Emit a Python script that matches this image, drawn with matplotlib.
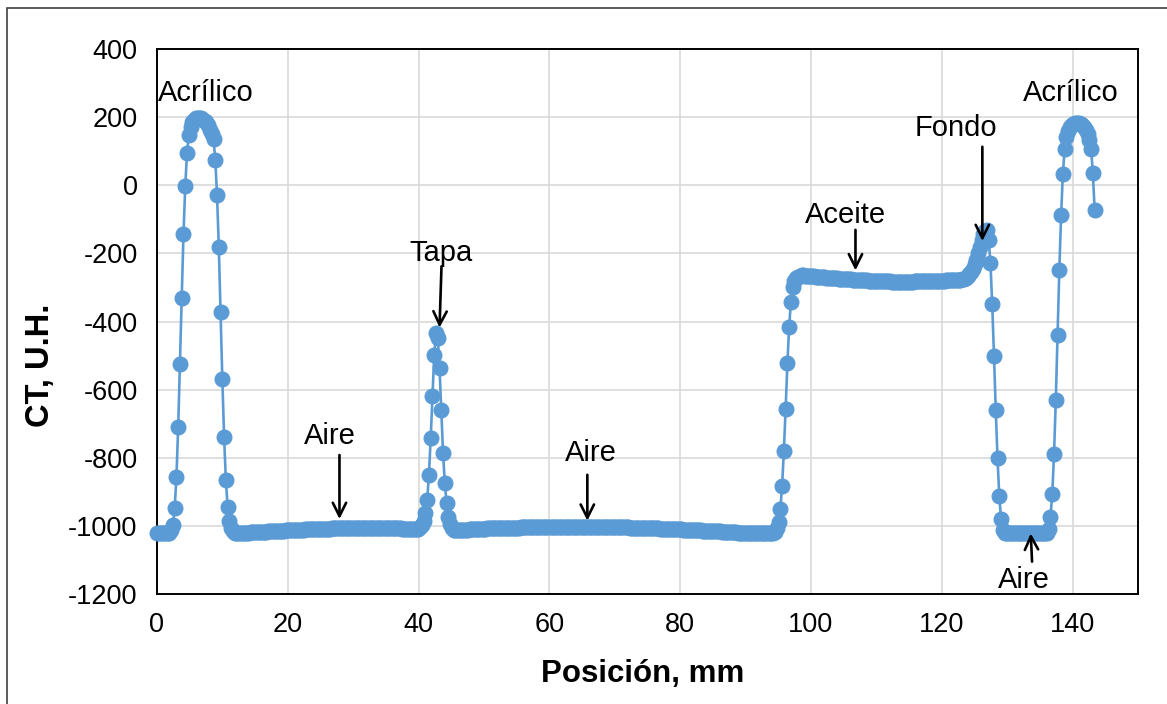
import matplotlib.pyplot as plt
import matplotlib.patches as mpatches
import numpy as np

plt.rcParams['font.family'] = ['Liberation Sans', 'DejaVu Sans']
plt.rcParams['axes.unicode_minus'] = False

# Perfil de CT a lo largo del fantoma (U.H.), un valor por pixel
PASO_MM = 0.27

acrilico_1 = [
    -1022, -1022, -1022, -1022, -1022, -1022, -1022, -1022,
    -1012, -997, -948, -857, -710, -525, -330, -143, -2, 95, 147, 172, 185, 192,
    197, 198, 198, 197, 193, 190, 185, 176, 163, 150, 136,
    74, -29, -181, -372, -569, -739, -866, -945, -986, -1006, -1016, -1021,
]

aire_1 = [
    -1022, -1022, -1021, -1021, -1021, -1020, -1020, -1020, -1019, -1019, -1019,
    -1019, -1018, -1018, -1018, -1017, -1017, -1017, -1016, -1016, -1016,
    -1015, -1015, -1015, -1015, -1014, -1014, -1014, -1013, -1013,
    -1013, -1013, -1012, -1012, -1012, -1011, -1011, -1011, -1011, -1010,
    -1010, -1010, -1010, -1009, -1009, -1009, -1009, -1009, -1008, -1008,
    -1008, -1008, -1008, -1008, -1007, -1007,
    -1007, -1007, -1007, -1007, -1007,
    -1006, -1006, -1006, -1006, -1006, -1006, -1006, -1006, -1006, -1006,
    -1006, -1006, -1006, -1006, -1006, -1006, -1006, -1006, -1006, -1006,
    -1006, -1006, -1006,
    -1007, -1007, -1007, -1007, -1007, -1007, -1007, -1007, -1007,
    -1007, -1008, -1008, -1008, -1008, -1009, -1009, -1009, -1010, -1010,
]

tapa = [
    -1008, -1003, -996, -985, -963, -924, -851, -743, -619, -498, -435,
    -449, -537, -660, -787, -875, -934, -973, -995, -1006, -1011, -1013,
]

aire_2 = [
    -1013, -1013, -1012, -1012, -1011, -1011, -1011, -1010, -1010,
    -1010, -1009, -1009, -1009, -1008, -1008, -1008, -1008, -1007, -1007, -1007,
    -1007, -1007, -1006, -1006, -1006, -1006, -1006, -1006, -1005, -1005,
    -1005, -1005, -1005, -1005, -1005,
    -1005, -1004, -1004, -1004, -1004, -1004, -1004, -1004, -1004, -1004,
    -1003, -1003, -1003, -1003, -1003, -1003, -1003, -1003,
    -1003, -1003, -1003, -1003, -1003,
    -1002, -1002, -1002, -1002, -1002, -1002, -1002, -1002, -1002, -1002,
    -1002, -1002, -1002, -1002, -1002, -1002, -1002, -1002, -1002, -1002,
    -1002, -1002, -1002, -1002, -1002, -1002, -1002,
    -1003, -1003, -1003, -1003, -1003,
    -1003, -1003, -1003, -1004, -1004, -1004, -1004, -1004, -1005, -1005,
    -1005, -1005, -1005, -1005, -1005,
    -1006, -1006, -1006, -1006, -1006, -1007, -1007, -1007, -1007, -1007,
    -1008, -1008, -1008, -1008, -1008,
    -1009, -1009, -1009, -1009, -1010, -1010, -1010, -1010, -1011, -1011,
    -1011, -1011, -1012, -1012, -1012,
    -1013, -1013, -1013, -1013, -1014, -1014, -1014, -1014, -1015, -1015,
    -1015, -1015, -1016, -1016, -1016,
    -1017, -1017, -1017, -1018, -1018, -1018, -1019, -1019, -1019, -1020, -1020,
    -1020, -1021, -1021, -1021, -1021, -1021,
    -1022, -1022, -1022, -1022, -1022, -1022, -1022, -1022, -1022, -1022,
    -1022, -1022, -1022,
]

subida_aceite = [
    -1018, -1005, -990, -951, -883, -780, -657, -523, -415, -342, -298,
    -281, -273, -269, -267,
]

aceite = [
    -264, -264, -265, -265, -266, -266, -267, -267, -268, -268,
    -269, -269, -270, -270, -271, -271, -272, -272, -272, -273,
    -273, -274, -274, -274, -275, -275, -276, -276, -276,
    -277, -277, -277, -278, -278, -278, -279, -279, -279, -280,
    -280, -280, -280, -281, -281, -281, -281, -282,
    -282, -282, -282, -282, -283, -283, -283, -283, -283, -283,
    -283, -283, -283, -283, -283, -283, -283, -282, -282, -282, -282, -282,
    -282, -282, -281, -281, -281, -281, -281, -280, -280, -280,
    -280, -280, -280, -279, -279, -279, -279, -279, -278, -278, -278,
    -277, -276, -274, -271, -267,
]

fondo = [
    -262, -255, -245, -232, -218, -200, -180, -160, -143, -133, -131,
    -161, -229, -350, -500, -660, -802, -912, -981, -1012, -1020,
]

aire_3 = [
    -1022, -1022, -1022, -1022, -1022, -1022, -1022, -1022, -1022, -1022, -1022, -1022,
    -1022, -1022, -1022, -1022, -1022, -1022, -1022, -1022, -1022, -1022, -1022, -1022,
]

acrilico_2 = [
    -1010, -973, -907, -789, -631, -440, -249, -88, 32, 106, 143,
    160, 170, 176, 180, 182, 183, 182, 180, 176, 170, 162, 150, 134,
    106, 35, -73,
]

ct = np.array(acrilico_1 + aire_1 + tapa + aire_2 + subida_aceite
              + aceite + fondo + aire_3 + acrilico_2)
posicion = np.arange(len(ct)) * PASO_MM

# etiquetas: (texto, posicion del texto, punta de la flecha, inicio de la flecha)
etiquetas = [
    ('Acrílico', (0.2, 270), None, None),
    ('Aire', (26.4, -736), (27.9, -980), (27.9, -792)),
    ('Tapa', (43.5, -200), (43.2, -418), (43.5, -238)),
    ('Aire', (66.3, -786), (65.8, -985), (65.8, -850)),
    ('Aceite', (105.2, -86), (106.8, -250), (106.8, -131)),
    ('Fondo', (122.2, 168), (126.2, -164), (126.2, 113)),
    ('Acrílico', (139.7, 270), None, None),
    ('Aire', (132.5, -1158), (133.6, -1022), (133.8, -1105)),
]

fig = plt.figure(figsize=(11.67, 7.04), dpi=100)
ax = fig.add_axes([157 / 1167, 1 - 594 / 704, (1138 - 157) / 1167, (594 - 49) / 704])

ax.plot(posicion, ct, '-o', color='#5B9BD5', lw=1.9, ms=10.5,
        mfc='#5B9BD5', mec='#5B9BD5', zorder=3, clip_on=False)

ax.set_xlim(0, 150)
ax.set_ylim(-1200, 400)
ax.set_xticks(np.arange(0, 141, 20))
ax.set_yticks(np.arange(-1200, 401, 200))
ax.grid(True, color='#D9D9D9', lw=1.2)
ax.set_axisbelow(True)
ax.tick_params(length=0, labelsize=19.5, colors='black')
ax.tick_params(axis='x', pad=13)
ax.tick_params(axis='y', pad=14)
for s in ax.spines.values():
    s.set_color('black')
    s.set_linewidth(1.4)

for texto, pos, punta, inicio in etiquetas:
    if texto == 'Acrílico' and pos[0] < 10:
        ax.text(pos[0], pos[1], texto, fontsize=21, ha='left', va='center')
    else:
        ax.text(pos[0], pos[1], texto, fontsize=21, ha='center', va='center')
    if punta is not None:
        ax.annotate('', xy=punta, xytext=inicio,
                    arrowprops=dict(arrowstyle='->', lw=1.9, color='black',
                                    mutation_scale=24, shrinkA=0, shrinkB=0),
                    zorder=5)

fig.text(643 / 1167, 1 - 674 / 704, 'Posición, mm', fontsize=22.5, fontweight='bold',
         ha='center', va='center')
fig.text(40 / 1167, 1 - 365 / 704, 'CT, U.H.', fontsize=23.5, fontweight='bold',
         ha='center', va='center', rotation=90)

# marco del area del grafico
marco = mpatches.Rectangle((7 / 1167, -0.05), 1.1, 1 - 8 / 704 + 0.05,
                           transform=fig.transFigure, fill=False,
                           edgecolor='#404040', lw=1.2)
fig.add_artist(marco)

fig.savefig('out.png', dpi=100)
